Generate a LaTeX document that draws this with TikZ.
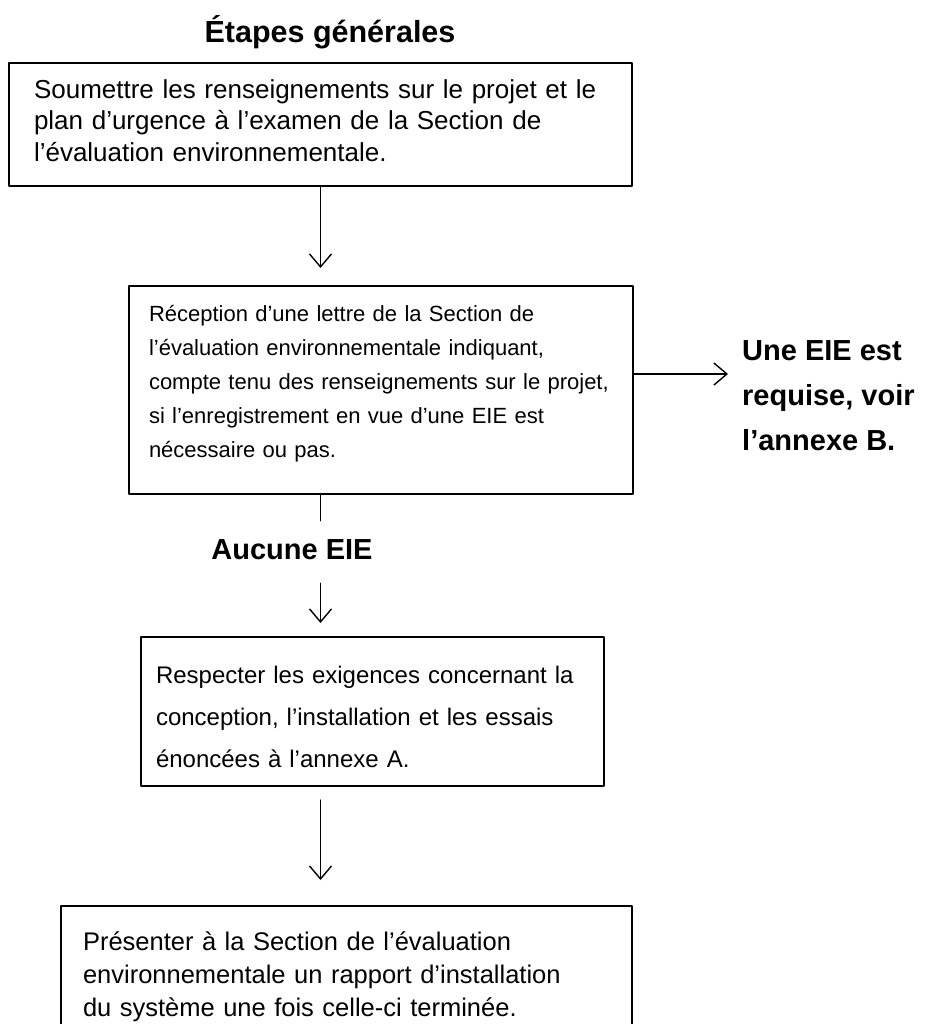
\documentclass[tikz,border=0pt]{standalone}
\usepackage{fontspec}
\setmainfont{Liberation Sans}
\usetikzlibrary{arrows.meta, calc, positioning}

\begin{document}
\begin{tikzpicture}[x=1pt, y=-1pt, line cap=round, line join=round,
  >={Straight Barb[length=13pt, width=22pt]},
  box/.style={draw, line width=2pt, anchor=north west, align=left},
  lab/.style={font=\fontsize{29}{45}\selectfont\bfseries, inner sep=0pt},
  arr/.style={->, line width=1.4pt}]
\useasboundingbox (0,0) rectangle (927,1024);
\clip (0,0) rectangle (927,1024);

% Title
\node [lab, font=\fontsize{30.5}{45}\selectfont\bfseries] (title) at (330,32) {Étapes générales};

% Boxes
\node [box, text width=573pt, inner xsep=25pt, minimum height=123pt,
  font=\fontsize{26}{31.5}\selectfont] (submit) at (8,62)
  {Soumettre les renseignements sur le projet et le\\
   plan d’urgence à l’examen de la Section de\\
   l’évaluation environnementale.\rule[-8pt]{0pt}{0pt}};

\node [box, text width=464pt, inner xsep=20pt, minimum height=208pt,
  font=\fontsize{22}{34}\selectfont] (receipt) at (128,285)
  {Réception d’une lettre de la Section de\\
   l’évaluation environnementale indiquant,\\
   compte tenu des renseignements sur le projet,\\
   si l’enregistrement en vue d’une EIE est\\
   nécessaire ou pas.\rule[-18pt]{0pt}{0pt}};

\node [box, text width=433pt, inner xsep=15pt, minimum height=149pt,
  font=\fontsize{24}{42}\selectfont] (respect) at (140,636)
  {\rule{0pt}{29pt}Respecter les exigences concernant la\\
   conception, l’installation et les essais\\
   énoncées à l’annexe A.};

\node [box, text width=527pt, inner xsep=22pt, inner ysep=26pt,
  font=\fontsize{25.5}{33}\selectfont] (report) at (60,905)
  {Présenter à la Section de l’évaluation\\
   environnementale un rapport d’installation\\
   du système une fois celle-ci terminée.};

% Labels
\node [lab, anchor=north west, align=left] (eie) at (742,340)
  {Une EIE est\\requise, voir\\l’annexe B.};
\node [lab] (none) at (292,550) {Aucune EIE};

% Arrows
\draw [arr, shorten >=17pt] (submit.south) -- (submit.south |- receipt.north);
\draw [arr, shorten >=14pt] ([yshift=16pt]receipt.east) -- ([yshift=16pt]receipt.east -| eie.west);
\draw [line width=1.4pt, shorten >=19pt] (submit.south |- receipt.south) -- (submit.south |- none.north);
\draw [arr, shorten <=23pt, shorten >=13pt] (submit.south |- none.south) -- (submit.south |- respect.north);
\draw [arr, shorten <=13pt, shorten >=25pt] (submit.south |- respect.south) -- (submit.south |- report.north);
\end{tikzpicture}
\end{document}
